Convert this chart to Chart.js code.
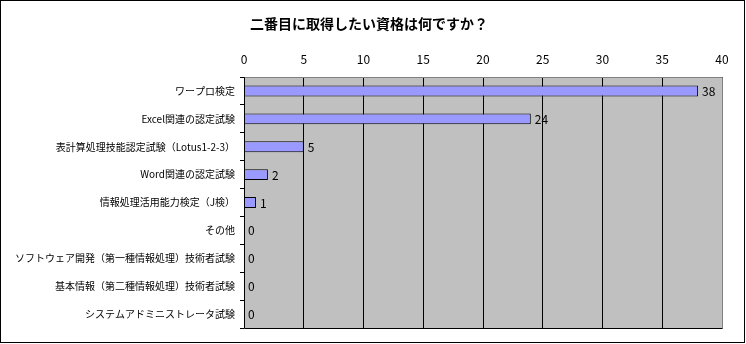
<!DOCTYPE html>
<html>
<head>
<meta charset="utf-8">
<script src="https://cdn.jsdelivr.net/npm/chart.js@4/dist/chart.umd.min.js"></script>
<style>
  html, body { margin: 0; padding: 0; background: #fff; }
  #wrap { position: absolute; left: 0; top: 0; width: 745px; height: 343px; box-sizing: border-box; border: 1px solid #000; background: #fff; }
  #c { display: block; }
</style>
</head>
<body>
<div id="wrap"><canvas id="c" width="743" height="341"></canvas></div>
<script>
const titleText = '二番目に取得したい資格は何ですか？';
const categories = [
  'ワープロ検定',
  'Excel関連の認定試験',
  '表計算処理技能認定試験（Lotus1-2-3）',
  'Word関連の認定試験',
  '情報処理活用能力検定（J検）',
  'その他',
  'ソフトウェア開発（第一種情報処理）技術者試験',
  '基本情報（第二種情報処理）技術者試験',
  'システムアドミニストレータ試験'
];
const values = [38, 24, 5, 2, 1, 0, 0, 0, 0];
const axisMin = 0, axisMax = 40, axisStep = 5;

const FONT = '"Noto Sans CJK JP", "Noto Sans", sans-serif';

const plotBg = {
  id: 'plotBg',
  beforeDraw(chart) {
    const { ctx, chartArea: a } = chart;
    ctx.save();
    ctx.fillStyle = '#C0C0C0';
    ctx.fillRect(a.left, a.top, a.right - a.left, a.bottom - a.top);
    ctx.restore();
  },
  afterDraw(chart) {
    const { ctx, chartArea: a } = chart;
    ctx.save();
    ctx.lineWidth = 1;
    ctx.strokeStyle = '#808080';
    ctx.beginPath();
    ctx.moveTo(Math.round(a.left) + 0.5, Math.round(a.top) + 0.5);
    ctx.lineTo(Math.round(a.right) + 0.5, Math.round(a.top) + 0.5);
    ctx.lineTo(Math.round(a.right) + 0.5, Math.round(a.bottom) + 0.5);
    ctx.stroke();
    ctx.strokeStyle = '#000';
    ctx.beginPath();
    ctx.moveTo(Math.round(a.left) + 0.5, Math.round(a.top) + 0.5);
    ctx.lineTo(Math.round(a.left) + 0.5, Math.round(a.bottom) + 0.5);
    ctx.lineTo(Math.round(a.right) + 0.5, Math.round(a.bottom) + 0.5);
    ctx.stroke();
    // title
    ctx.fillStyle = '#000';
    ctx.font = 'bold 14px ' + FONT;
    ctx.textAlign = 'center';
    ctx.textBaseline = 'middle';
    ctx.fillText(titleText, 368, 23);
    ctx.restore();
  }
};

const dataLabels = {
  id: 'dataLabels',
  afterDatasetsDraw(chart) {
    const { ctx } = chart;
    const meta = chart.getDatasetMeta(0);
    ctx.save();
    ctx.fillStyle = '#000';
    ctx.font = '12px ' + FONT;
    ctx.textAlign = 'left';
    ctx.textBaseline = 'middle';
    meta.data.forEach((bar, i) => {
      ctx.fillText(String(values[i]), bar.x + 4, bar.y + 0.5);
    });
    ctx.restore();
  }
};

new Chart(document.getElementById('c'), {
  type: 'bar',
  data: {
    labels: categories,
    datasets: [{
      data: values,
      backgroundColor: '#9999FF',
      borderColor: '#000',
      borderWidth: 1,
      borderSkipped: 'start',
      barPercentage: 0.39,
      categoryPercentage: 1.0
    }]
  },
  options: {
    indexAxis: 'y',
    responsive: false,
    animation: false,
    devicePixelRatio: 1,
    layout: { padding: { left: 0, top: 0, right: 22, bottom: 14 } },
    plugins: { legend: { display: false }, title: { display: false }, tooltip: { enabled: false } },
    scales: {
      x: {
        position: 'top',
        min: axisMin, max: axisMax,
        afterFit(scale) { scale.height = 76; },
        ticks: { stepSize: axisStep, color: '#000', padding: 10, font: { family: FONT, size: 12 } },
        grid: { color: '#000', lineWidth: 1, drawTicks: false },
        border: { display: false }
      },
      y: {
        afterFit(scale) { scale.width = 243; },
        ticks: { color: '#000', padding: 5, autoSkip: false, font: { family: FONT, size: 10 } },
        grid: { offset: true, drawOnChartArea: false, drawTicks: true, tickLength: 4, color: '#000' },
        border: { display: false }
      }
    }
  },
  plugins: [plotBg, dataLabels]
});
</script>
</body>
</html>
